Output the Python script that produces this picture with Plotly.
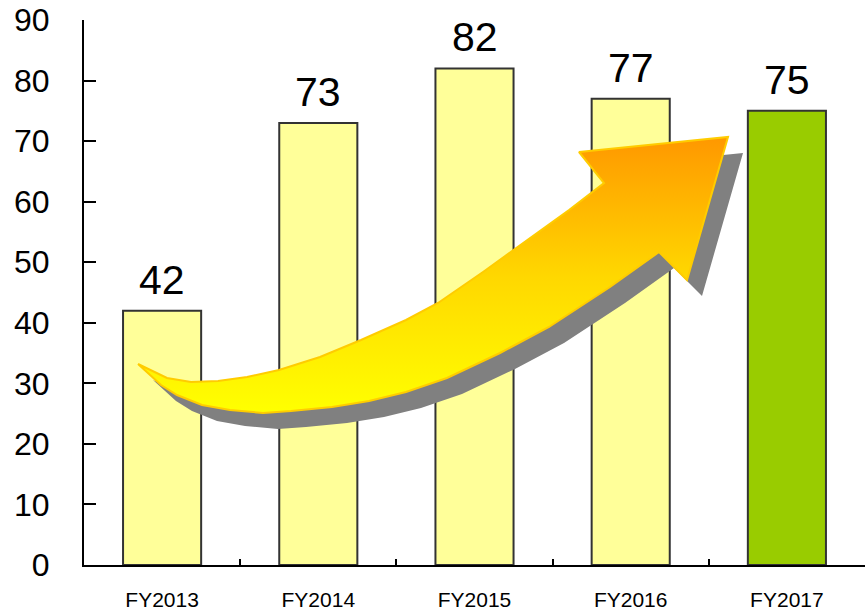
import plotly.graph_objects as go

categories = ["FY2013", "FY2014", "FY2015", "FY2016", "FY2017"]
values = [42, 73, 82, 77, 75]
bar_colors = ["#FFFF99", "#FFFF99", "#FFFF99", "#FFFF99", "#99CC00"]
y_ticks = [0, 10, 20, 30, 40, 50, 60, 70, 80, 90]

# Decorative arrow outline (pixel space of overlay axes)
arrow_x = [138, 167, 191, 218, 247, 279, 320, 361, 406, 438, 483, 528, 569, 604,
           579, 728, 687, 659, 610, 549, 500, 447, 406, 369, 332, 291, 263, 230,
           202, 177, 161, 138]
arrow_y = [364, 378, 382, 381, 377, 370, 357, 340, 320, 303, 272, 240, 210, 183,
           152, 137, 280, 252, 287, 327, 353, 378, 392, 401, 407, 411, 413, 410,
           405, 395, 385, 364]
shadow_dx, shadow_dy = 15, 16

FONT = "Liberation Sans, Arial, sans-serif"

fig = go.Figure()
fig.add_trace(go.Bar(
    x=categories, y=values, width=0.5,
    marker=dict(color=bar_colors, line=dict(color="#333333", width=2)),
    hoverinfo="skip", showlegend=False,
))

fig.add_trace(go.Scatter(
    x=[v + shadow_dx for v in arrow_x], y=[v + shadow_dy for v in arrow_y],
    xaxis="x2", yaxis="y2", mode="lines", fill="toself",
    fillcolor="#808080", line=dict(color="#808080", width=0),
    hoverinfo="skip", showlegend=False,
))
fig.add_trace(go.Scatter(
    x=arrow_x, y=arrow_y,
    xaxis="x2", yaxis="y2", mode="lines", fill="toself",
    fillgradient=dict(type="vertical", start=410, stop=140,
                      colorscale=[[0, "#FFFF00"], [0.5, "#FFD700"], [1, "#FF9900"]]),
    line=dict(color="#FFCC00", width=2),
    hoverinfo="skip", showlegend=False,
))

for c, v in zip(categories, values):
    fig.add_annotation(x=c, y=v, xref="x", yref="y", text=str(v), showarrow=False,
                       yanchor="bottom", yshift=6,
                       font=dict(family=FONT, size=41, color="black"))

fig.update_layout(
    width=865, height=613,
    margin=dict(l=84, r=0, t=20, b=48, autoexpand=False),
    paper_bgcolor="white", plot_bgcolor="white",
    bargap=0.5,
    xaxis=dict(
        categoryorder="array", categoryarray=categories,
        showline=True, linecolor="black", linewidth=2,
        ticks="inside", tickson="boundaries", ticklen=6, tickcolor="black", tickwidth=1.5,
        showgrid=False, zeroline=False, automargin=False,
        tickfont=dict(family=FONT, size=21, color="black"),
        ticklabelstandoff=15,
    ),
    yaxis=dict(
        range=[0, 90], tickvals=y_ticks,
        showline=True, linecolor="black", linewidth=2,
        ticks="inside", ticklen=12, tickcolor="black", tickwidth=1.5,
        showgrid=False, zeroline=False, automargin=False,
        tickfont=dict(family=FONT, size=32, color="black"),
        ticklabelstandoff=26,
    ),
    xaxis2=dict(overlaying="x", anchor="y2", range=[84, 865], visible=False),
    yaxis2=dict(overlaying="y", anchor="x2", range=[565, 20], visible=False),
)

fig.write_html("out.html", config={"displayModeBar": False},
               post_script="document.body.style.margin='0';document.body.style.overflow='hidden';")
